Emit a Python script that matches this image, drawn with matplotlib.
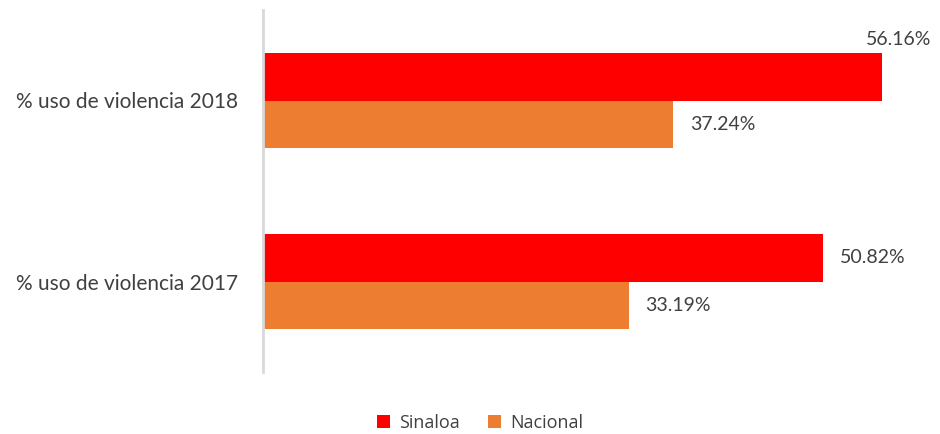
import matplotlib.pyplot as plt
import numpy as np

categorias = ["% uso de violencia 2017", "% uso de violencia 2018"]
sinaloa = [50.82, 56.16]
nacional = [33.19, 37.24]

rojo = "#FF0000"
naranja = "#ED7D31"
gris = "#404040"

fig = plt.figure(figsize=(9.4, 4.34), dpi=100)
ax = fig.add_axes([263 / 940, 62 / 434, 667 / 940, 362 / 434])

y = np.arange(len(categorias))
h = 0.26
b1 = ax.barh(y + h / 2, sinaloa, height=h, color=rojo, label="Sinaloa")
b2 = ax.barh(y - h / 2, nacional, height=h, color=naranja, label="Nacional")

ax.set_xlim(0, 667 / 11.02)
ax.set_ylim(-0.5, 1.5)
ax.set_yticks(y)
ax.set_yticklabels(categorias, family="Lato", fontsize=15, color=gris)
ax.tick_params(axis="y", length=0, pad=18)
ax.set_xticks([])
for s in ["top", "right", "bottom"]:
    ax.spines[s].set_visible(False)
ax.spines["left"].set_color("#D9D9D9")
ax.spines["left"].set_linewidth(2)

# etiquetas de valor
for i, v in enumerate(sinaloa):
    if v == max(sinaloa):
        ax.annotate(f"{v:.2f}%", (v, y[i] + h), xytext=(12, 4), textcoords="offset points",
                    ha="center", va="bottom", family="Lato", fontsize=14, color=gris)
    else:
        ax.annotate(f"{v:.2f}%", (v, y[i] + h / 2), xytext=(12, 0), textcoords="offset points",
                    ha="left", va="center", family="Lato", fontsize=14, color=gris)
for i, v in enumerate(nacional):
    ax.annotate(f"{v:.2f}%", (v, y[i] - h / 2), xytext=(12, 0), textcoords="offset points",
                ha="left", va="center", family="Lato", fontsize=14, color=gris)

fig.legend(handles=[b1, b2], loc="center", bbox_to_anchor=(480 / 940, 1 - 423 / 434),
           ncol=2, frameon=False, prop={"family": "Open Sans", "size": 13},
           handlelength=0.7, handleheight=0.7, handletextpad=0.5, columnspacing=1.6,
           labelcolor=gris)

fig.savefig("out.png", dpi=100)
